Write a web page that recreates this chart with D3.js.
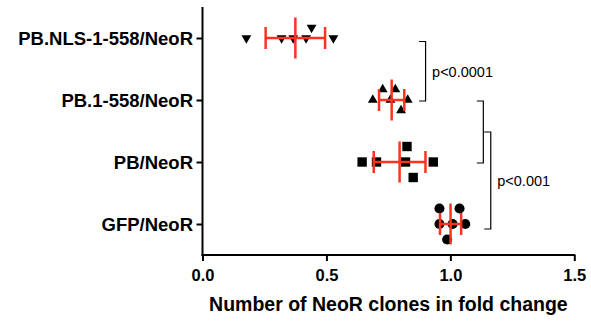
<!DOCTYPE html>
<html>
<head>
<meta charset="utf-8">
<script src="https://cdn.jsdelivr.net/npm/d3@7"></script>
<style>
  body { margin: 0; background: #fff; }
  text { font-family: "Liberation Sans", Arial, sans-serif; }
</style>
</head>
<body>
<div id="chart"></div>
<script>
// horizontal scatter (mean ± SD) of NeoR clone counts, fold change
const categories = ["PB.NLS-1-558/NeoR", "PB.1-558/NeoR", "PB/NeoR", "GFP/NeoR"];
const markerTypes = ["triangleDown", "triangleUp", "square", "circle"];

const nlsValues = [0.177, 0.319, 0.366, 0.418, 0.44, 0.528];
const pb558Values = [0.687, 0.727, 0.758, 0.778, 0.801, 0.828];
const pbValues = [0.644, 0.702, 0.819, 0.825, 0.85, 0.931];
const gfpValues = [0.956, 0.956, 0.987, 1.009, 1.037, 1.06];
const seriesValues = [nlsValues, pb558Values, pbValues, gfpValues];

const xTicks = [0, 0.5, 1.0, 1.5];
const xTitle = "Number of NeoR clones in fold change";

// significance brackets: pairs of categories and label
const brackets = [
  {from: "PB.NLS-1-558/NeoR", to: "PB.1-558/NeoR", at: 0.90, label: "p<0.0001"},
  {from: "PB.1-558/NeoR", to: "PB/NeoR", at: 1.133, label: ""},
  {from: "PB.1-558/NeoR|PB/NeoR", to: "GFP/NeoR", at: 1.163, label: "p<0.001"}
];

const width = 591, height = 322;
const red = "#ff3220";

const svg = d3.select("#chart")
  .append("svg")
  .attr("width", width)
  .attr("height", height);

const x = d3.scaleLinear().domain([0, 1.5]).range([202.5, 574.3]);
const y = d3.scalePoint().domain(categories).range([7, 255]).padding(0.5);

// axes
const xAxis = svg.append("g")
  .attr("transform", "translate(0,255)")
  .call(d3.axisBottom(x).tickValues(xTicks).tickFormat(d3.format(".1f")).tickSize(6).tickSizeOuter(0));
xAxis.select(".domain").attr("stroke-width", 2).attr("d", "M201.5,0H575.3");
xAxis.selectAll(".tick line").attr("stroke-width", 2);
xAxis.selectAll(".tick text")
  .attr("y", 26).attr("dy", 0)
  .attr("fill", "#000")
  .style("font-size", "16.5px")
  .style("font-weight", "bold");

const yAxis = svg.append("g")
  .attr("transform", "translate(202.5,0)")
  .call(d3.axisLeft(y).tickSize(6).tickSizeOuter(0));
yAxis.select(".domain").attr("stroke-width", 2).attr("d", "M0,7V256");
yAxis.selectAll(".tick line").attr("stroke-width", 2);
yAxis.selectAll(".tick text")
  .attr("x", -9.5).attr("dy", "0.37em")
  .attr("fill", "#000")
  .style("font-size", "18.5px")
  .style("font-weight", "bold");

svg.append("text")
  .attr("x", (x.range()[0] + x.range()[1]) / 2)
  .attr("y", 311)
  .attr("text-anchor", "middle")
  .text(xTitle)
  .style("font-size", "19.5px")
  .style("font-weight", "bold");

// simple lane dodge so overlapping points spread vertically
function dodge(values, minGap) {
  const lanes = [0, -1, 1];
  const placed = [];
  d3.sort(values).forEach(v => {
    const px = x(v);
    let best = null, bestDist = -1;
    for (const lane of lanes) {
      const others = placed.filter(p => p.lane === lane);
      const dist = others.length ? d3.min(others, p => Math.abs(p.px - px)) : Infinity;
      if (dist >= minGap) { best = lane; break; }
      if (dist > bestDist) { bestDist = dist; best = lane; }
    }
    placed.push({value: v, px: px, lane: best});
  });
  return placed;
}

const symbols = {
  triangleDown: {type: d3.symbolTriangle, size: 42, rotate: 180, step: 10.5},
  triangleUp: {type: d3.symbolTriangle, size: 42, rotate: 0, step: 10.5},
  square: {type: d3.symbolSquare, size: 88, rotate: 0, step: 15.5},
  circle: {type: d3.symbolCircle, size: 80, rotate: 0, step: 15.5}
};

categories.forEach((cat, i) => {
  const values = seriesValues[i];
  const sym = symbols[markerTypes[i]];
  const cy = y(cat);
  const pts = dodge(values, 11);

  svg.append("g").selectAll("path")
    .data(pts)
    .enter()
    .append("path")
    .attr("d", d3.symbol().type(sym.type).size(sym.size))
    .attr("transform", d => `translate(${d.px},${cy + d.lane * sym.step}) rotate(${sym.rotate})`)
    .attr("fill", "#000");

  // mean ± SD
  const m = d3.mean(values), sd = d3.deviation(values);
  const eb = svg.append("g").attr("stroke", red).attr("stroke-width", 2.5);
  eb.append("line")
    .attr("x1", x(m - sd)).attr("x2", x(m + sd))
    .attr("y1", cy).attr("y2", cy);
  [m - sd, m + sd].forEach(v => {
    eb.append("line")
      .attr("x1", x(v)).attr("x2", x(v))
      .attr("y1", cy - 11).attr("y2", cy + 11);
  });
  eb.append("line")
    .attr("x1", x(m)).attr("x2", x(m))
    .attr("y1", cy - 20.5).attr("y2", cy + 20.5);
});

// brackets
const bracketG = svg.append("g").attr("stroke", "#000").attr("stroke-width", 1.2).attr("fill", "none");
let lastMid = null;
brackets.forEach(b => {
  const bx = x(b.at);
  let y1, y2;
  if (b.from.includes("|")) {
    y1 = lastMid;
    y2 = y(b.to) + 5;
  } else {
    y1 = y(b.from) + (b.from === categories[0] ? 3.5 : 1);
    y2 = y(b.to) + 1;
  }
  bracketG.append("path")
    .attr("d", `M${bx - 6.5},${y1}H${bx}V${y2}H${bx - 6.5}`);
  lastMid = (y1 + y2) / 2;
  if (b.label) {
    svg.append("text")
      .attr("x", bx + 6.5)
      .attr("y", lastMid + 5.5)
      .text(b.label)
      .style("font-size", "14.5px");
  }
});
</script>
</body>
</html>
